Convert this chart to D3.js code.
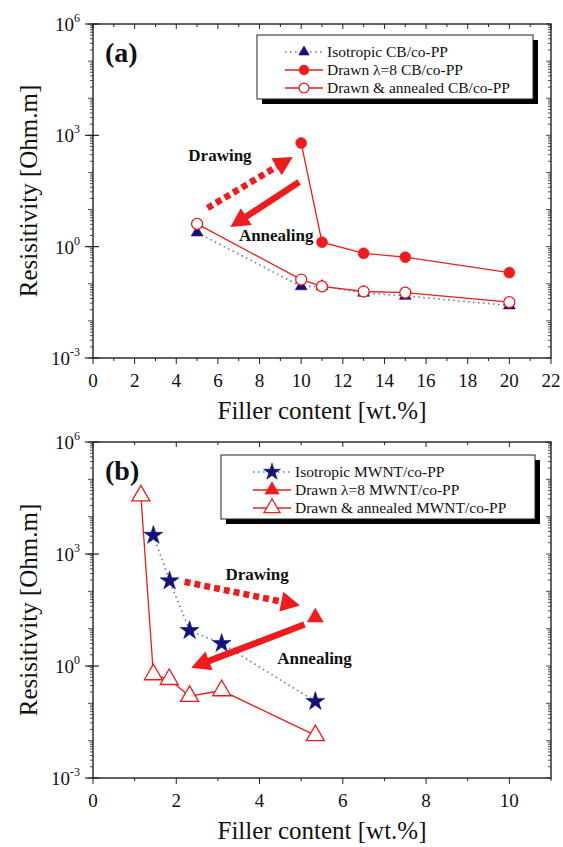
<!DOCTYPE html>
<html>
<head>
<meta charset="utf-8">
<script src="https://cdn.jsdelivr.net/npm/d3@7"></script>
<style>
  body { margin: 0; background: #fff; }
  svg { display: block; }
  text { font-family: "Liberation Serif", "Times New Roman", serif; fill: #111; }
</style>
</head>
<body>
<svg id="chart" width="563" height="847"></svg>
<script>
// ---- Panel (a): carbon black filled co-PP ----
const cbContent      = [5, 10, 11, 13, 15, 20];
const cbIsotropic    = [2.4, 0.085, 0.085, 0.057, 0.047, 0.026];
const cbDrawnContent = [10, 11, 13, 15, 20];
const cbDrawn        = [620, 1.32, 0.66, 0.52, 0.2];
const cbAnnealed     = [4.1, 0.13, 0.085, 0.062, 0.058, 0.032];

// ---- Panel (b): MWNT filled co-PP ----
const mwntIsoContent   = [1.45, 1.84, 2.32, 3.09, 5.34];
const mwntIsotropic    = [3160, 190, 8.9, 4.0, 0.112];
const mwntDrawnContent = [5.34];
const mwntDrawn        = [20];
const mwntAnnContent   = [1.15, 1.45, 1.83, 2.32, 3.09, 5.34];
const mwntAnnealed     = [36300, 0.59, 0.44, 0.155, 0.22, 0.0138];

// ---- Axis ticks ----
const xTicksA   = [0, 2, 4, 6, 8, 10, 12, 14, 16, 18, 20, 22];
const xTicksB   = [0, 2, 4, 6, 8, 10];
const yTickExps = [-3, 0, 3, 6];

// ---- Legend labels ----
const legendA = ["Isotropic CB/co-PP", "Drawn \u03bb=8 CB/co-PP", "Drawn & annealed CB/co-PP"];
const legendB = ["Isotropic MWNT/co-PP", "Drawn \u03bb=8 MWNT/co-PP", "Drawn & annealed MWNT/co-PP"];

// ---- Process arrows, in data units [content, resistivity] ----
const arrowsA = [
  { label: "Drawing",   from: [5.5, 11],  to: [9.6, 260], dashed: true,  text: [6.1, 290] },
  { label: "Annealing", from: [9.9, 55],  to: [6.6, 3.4], dashed: false, text: [8.8, 2.0] }
];
const arrowsB = [
  { label: "Drawing",   from: [2.2, 180], to: [4.97, 42], dashed: true,  text: [3.94, 300] },
  { label: "Annealing", from: [5.08, 13], to: [2.36, 0.9], dashed: false, text: [5.32, 1.65] }
];

const RED = "#ee1c1c";
const NAVY = "#12127a";
const DOT = "#5a7ab8";

const svg = d3.select("#chart");

function panel(cfg) {
  const x = d3.scaleLinear().domain(cfg.xDomain).range([93, 551]);
  const y = d3.scaleLog().domain([1e-3, 1e6]).range([cfg.bottom, cfg.top]);
  const g = svg.append("g");

  // minor log ticks on left (outward) and right (inward)
  const minor = [];
  for (let e = -3; e < 6; e++) for (let m = 1; m < 10; m++) minor.push(m * Math.pow(10, e));
  minor.push(1e6);
  const yMinor = minor.map(v => ({ v, len: Math.abs(Math.log10(v) % 1) < 1e-9 ? 5 : 3 }));
  g.selectAll(".ytl").data(yMinor).join("line")
    .attr("x1", 93).attr("x2", d => 93 - d.len)
    .attr("y1", d => y(d.v)).attr("y2", d => y(d.v))
    .attr("stroke", "#222").attr("stroke-width", 0.8);
  g.selectAll(".ytr").data(yMinor).join("line")
    .attr("x1", 551).attr("x2", d => 551 - d.len)
    .attr("y1", d => y(d.v)).attr("y2", d => y(d.v))
    .attr("stroke", "#222").attr("stroke-width", 0.8);
  // labelled decades, longer ticks
  const yMajor = yTickExps.map(e => Math.pow(10, e));
  g.selectAll(".ymaj").data(yMajor).join("line")
    .attr("x1", 85).attr("x2", 99)
    .attr("y1", d => y(d)).attr("y2", d => y(d))
    .attr("stroke", "#222").attr("stroke-width", 1.2);

  // x ticks: majors with labels, minors halfway
  const [x0, x1] = cfg.xDomain;
  const xMinor = d3.range(x0, x1 + 0.001, 1);
  g.selectAll(".xtb").data(xMinor).join("line")
    .attr("x1", d => x(d)).attr("x2", d => x(d))
    .attr("y1", cfg.bottom).attr("y2", d => cfg.bottom + (d % 2 === 0 ? 6 : 3))
    .attr("stroke", "#222").attr("stroke-width", 1);
  g.selectAll(".xtt").data(xMinor).join("line")
    .attr("x1", d => x(d)).attr("x2", d => x(d))
    .attr("y1", cfg.top).attr("y2", d => cfg.top + (d % 2 === 0 ? 5 : 3))
    .attr("stroke", "#222").attr("stroke-width", 1);

  // frame
  g.append("rect").attr("x", 93).attr("y", cfg.top)
    .attr("width", 458).attr("height", cfg.bottom - cfg.top)
    .attr("fill", "none").attr("stroke", "#222").attr("stroke-width", 1.4);

  // x tick labels
  g.selectAll(".xl").data(cfg.xTicks).join("text")
    .attr("x", d => x(d)).attr("y", cfg.bottom + 29)
    .attr("text-anchor", "middle").attr("font-size", 19)
    .text(d => d);

  // y tick labels 10^n
  const yl = g.selectAll(".yl").data(yTickExps).join("text")
    .attr("x", 80).attr("y", d => y(Math.pow(10, d)) + 7)
    .attr("text-anchor", "end").attr("font-size", 19);
  yl.append("tspan").text("10");
  yl.append("tspan").attr("font-size", 12).attr("dy", -9).text(d => d);

  // axis titles
  g.append("text").attr("x", 322).attr("y", cfg.bottom + 61)
    .attr("text-anchor", "middle").attr("font-size", 25)
    .text("Filler content [wt.%]");
  g.append("text")
    .attr("transform", `translate(37,${(cfg.top + cfg.bottom) / 2}) rotate(-90)`)
    .attr("text-anchor", "middle").attr("font-size", 25)
    .text("Resisitivity [Ohm.m]");

  // panel letter
  g.append("text").attr("x", 105).attr("y", cfg.top + 38)
    .attr("font-size", 28).attr("font-weight", "bold").text(cfg.letter);

  // series
  const line = d3.line().x(d => x(d[0])).y(d => y(d[1]));
  cfg.series.forEach(s => {
    const pts = s.xs.map((v, i) => [v, s.ys[i]]);
    if (pts.length > 1) {
      g.append("path").attr("d", line(pts)).attr("fill", "none")
        .attr("stroke", s.lineColor).attr("stroke-width", s.dotted ? 1.6 : 1.3)
        .attr("stroke-dasharray", s.dotted ? "1.5,3.5" : null);
    }
  });
  cfg.series.forEach(s => {
    const pts = s.xs.map((v, i) => [v, s.ys[i]]);
    g.selectAll(null).data(pts).join("path")
      .attr("transform", d => `translate(${x(d[0])},${y(d[1])})`)
      .attr("d", d3.symbol().type(s.symbol).size(s.size)())
      .attr("fill", s.fill).attr("stroke", s.stroke).attr("stroke-width", s.open ? 1.3 : 0.6);
  });

  // process arrows
  cfg.arrows.forEach(a => {
    const p0 = [x(a.from[0]), y(a.from[1])];
    const p1 = [x(a.to[0]), y(a.to[1])];
    const dx = p1[0] - p0[0], dy = p1[1] - p0[1];
    const L = Math.hypot(dx, dy), ux = dx / L, uy = dy / L;
    const hl = 19, hw = 10;
    const bx = p1[0] - ux * hl, by = p1[1] - uy * hl;
    g.append("line").attr("x1", p0[0]).attr("y1", p0[1]).attr("x2", bx + ux * 2).attr("y2", by + uy * 2)
      .attr("stroke", RED).attr("stroke-width", 6.5)
      .attr("stroke-dasharray", a.dashed ? "6,4" : null);
    g.append("path")
      .attr("d", `M${p1[0]},${p1[1]}L${bx - uy * hw},${by + ux * hw}L${bx + uy * hw},${by - ux * hw}Z`)
      .attr("fill", RED);
    g.append("text").attr("x", x(a.text[0])).attr("y", y(a.text[1]) + 6)
      .attr("text-anchor", "middle").attr("font-size", 17).attr("font-weight", "bold")
      .attr("fill", "#333").text(a.label);
  });

  // legend box with drop shadow
  const L = cfg.legend;
  g.append("rect").attr("x", L.x + 5).attr("y", L.y + 5).attr("width", L.w).attr("height", L.h).attr("fill", "#000");
  g.append("rect").attr("x", L.x).attr("y", L.y).attr("width", L.w).attr("height", L.h)
    .attr("fill", "#fff").attr("stroke", "#222").attr("stroke-width", 1);
  cfg.series.forEach((s, i) => {
    const ry = L.y + 17 + i * 18;
    g.append("line").attr("x1", L.sx).attr("x2", L.sx + 38).attr("y1", ry).attr("y2", ry)
      .attr("stroke", s.lineColor).attr("stroke-width", s.dotted ? 1.6 : 1.3)
      .attr("stroke-dasharray", s.dotted ? "1.5,3.5" : null);
    g.append("path").attr("transform", `translate(${L.sx + 19},${ry})`)
      .attr("d", d3.symbol().type(s.symbol).size(s.size * 0.8)())
      .attr("fill", s.fill).attr("stroke", s.stroke).attr("stroke-width", s.open ? 1.3 : 0.6);
    g.append("text").attr("x", L.sx + 42).attr("y", ry + 5)
      .attr("font-size", 15.5).text(cfg.labels[i]);
  });
}

panel({
  top: 24, bottom: 358, xDomain: [0, 22], xTicks: xTicksA, letter: "(a)",
  labels: legendA, arrows: arrowsA,
  legend: { x: 257, y: 35, w: 276, h: 64, sx: 285 },
  series: [
    { xs: cbContent, ys: cbIsotropic, symbol: d3.symbolTriangle, size: 60, fill: NAVY, stroke: NAVY, lineColor: DOT, dotted: true },
    { xs: cbDrawnContent, ys: cbDrawn, symbol: d3.symbolCircle, size: 95, fill: RED, stroke: RED, lineColor: RED },
    { xs: cbContent, ys: cbAnnealed, symbol: d3.symbolCircle, size: 95, fill: "#fff", stroke: RED, lineColor: RED, open: true }
  ]
});

panel({
  top: 442, bottom: 778, xDomain: [0, 11], xTicks: xTicksB, letter: "(b)",
  labels: legendB, arrows: arrowsB,
  legend: { x: 221, y: 455, w: 314, h: 64, sx: 253 },
  series: [
    { xs: mwntIsoContent, ys: mwntIsotropic, symbol: d3.symbolStar, size: 110, fill: NAVY, stroke: NAVY, lineColor: DOT, dotted: true },
    { xs: mwntDrawnContent, ys: mwntDrawn, symbol: d3.symbolTriangle, size: 110, fill: RED, stroke: RED, lineColor: RED },
    { xs: mwntAnnContent, ys: mwntAnnealed, symbol: d3.symbolTriangle, size: 140, fill: "#fff", stroke: RED, lineColor: RED, open: true }
  ]
});
</script>
</body>
</html>
